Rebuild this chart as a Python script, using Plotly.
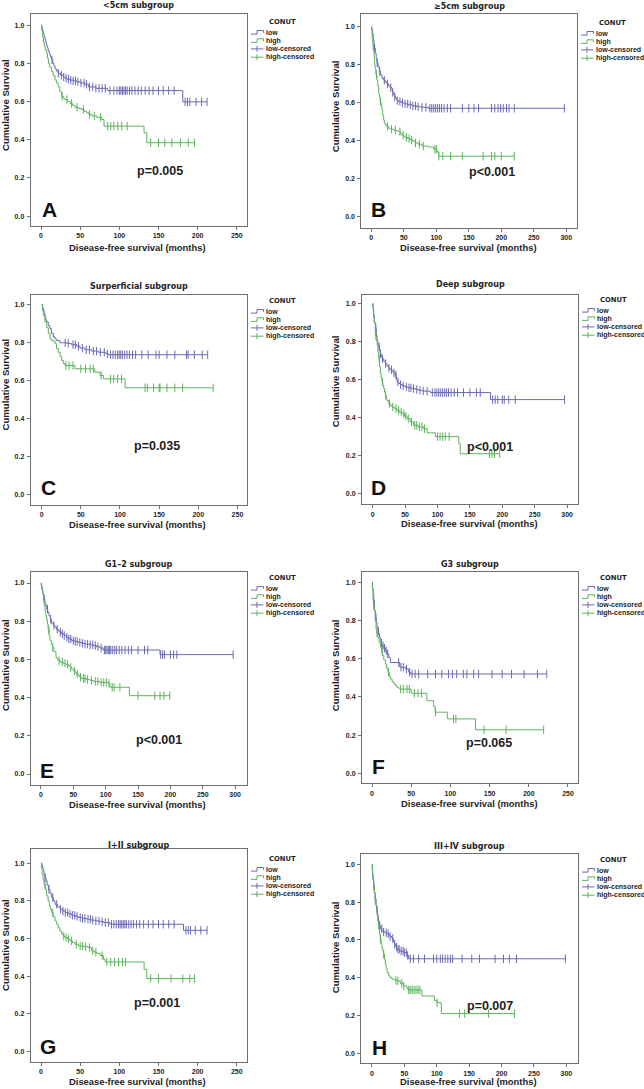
import plotly.graph_objects as go

# ---------------- data ----------------
panel_titles = ["<5cm subgroup", "\u22655cm subgroup", "Surperficial subgroup", "Deep subgroup",
                "G1\u20132 subgroup", "G3 subgroup", "I+II subgroup", "III+IV subgroup"]
panel_letters = ["A", "B", "C", "D", "E", "F", "G", "H"]
p_values = ["p=0.005", "p<0.001", "p=0.035", "p<0.001", "p<0.001", "p=0.065", "p=0.001", "p=0.007"]
x_tick_max = [250, 300, 250, 300, 300, 250, 250, 300]
y_ticks = [0.0, 0.2, 0.4, 0.6, 0.8, 1.0]
legend_labels = ["low", "high", "low-censored", "high-censored"]

# A  <5cm
A_low_t = [1, 2, 3, 4, 5, 6, 7, 8, 9, 10, 11, 12, 13.5, 15, 16.5, 18, 20, 22, 25, 28.5, 31, 33, 37, 41, 45.5, 50, 56, 60.4, 70, 84.7, 181]
A_low_s = [0.985, 0.968, 0.955, 0.94, 0.925, 0.91, 0.895, 0.882, 0.87, 0.858, 0.845, 0.832, 0.818, 0.8, 0.785, 0.77, 0.758, 0.748, 0.738, 0.728, 0.722, 0.717, 0.712, 0.708, 0.703, 0.697, 0.69, 0.676, 0.669, 0.657, 0.598]
A_low_cens = [14, 22, 26, 29, 32, 35, 38, 41, 44, 47, 51, 55, 58, 62, 66, 70, 74, 78, 82, 88, 93, 97, 100, 102, 104, 106, 108, 110, 113, 116, 120, 124, 128, 133, 138, 143, 150, 156, 163, 170, 184, 187, 190, 198, 205, 212]
A_high_t = [1, 2, 3, 4.3, 5.5, 7.2, 8.3, 9.4, 11, 13.6, 15.5, 17.9, 20, 22, 24, 26.4, 28.5, 30.6, 34, 37, 40, 43.4, 48, 51.9, 55, 58.3, 61, 64.7, 71, 77.4, 80.4, 131.5, 135]
A_high_s = [0.97, 0.939, 0.91, 0.887, 0.87, 0.852, 0.826, 0.80, 0.78, 0.756, 0.735, 0.712, 0.695, 0.677, 0.65, 0.625, 0.617, 0.61, 0.6, 0.59, 0.58, 0.569, 0.563, 0.558, 0.549, 0.54, 0.532, 0.524, 0.517, 0.506, 0.471, 0.436, 0.384]
A_high_cens = [27, 33, 39, 46, 54, 62, 68, 76, 85, 89, 93, 98, 103, 110, 140, 150, 158, 167, 178, 188, 196]

# B  >=5cm
B_low_t = [1, 2, 3, 4, 5, 6.2, 7.5, 8.7, 10.5, 12.3, 14, 16.4, 19, 21.5, 24, 26.7, 29, 31.8, 33, 34.4, 36, 38, 40, 42, 47, 52, 57, 62.6, 70, 78, 88]
B_low_s = [0.985, 0.96, 0.933, 0.905, 0.889, 0.862, 0.836, 0.81, 0.79, 0.765, 0.748, 0.73, 0.72, 0.71, 0.70, 0.69, 0.68, 0.67, 0.655, 0.643, 0.632, 0.62, 0.612, 0.607, 0.6, 0.595, 0.59, 0.585, 0.58, 0.577, 0.572]
B_low_cens = [5, 9, 13, 20, 25, 30, 33, 36, 40, 44, 48, 52, 56, 60, 64, 68, 72, 78, 84, 90, 93, 96, 99, 102, 105, 108, 112, 117, 122, 140, 150, 158, 165, 185, 190, 195, 199, 203, 208, 212, 220, 297]
B_high_t = [0.5, 1, 1.5, 2, 3, 3.6, 4.3, 5.1, 6, 7, 8.7, 10, 11.3, 12.5, 13.8, 15, 16.4, 17.5, 19, 20, 21.5, 24, 26.7, 30, 34.4, 38, 42, 45, 47, 50, 52, 56, 60, 64, 67.7, 72, 78, 88, 96, 101, 103.6]
B_high_s = [0.985, 0.968, 0.94, 0.915, 0.895, 0.88, 0.84, 0.80, 0.78, 0.75, 0.72, 0.69, 0.65, 0.63, 0.607, 0.585, 0.563, 0.535, 0.51, 0.495, 0.484, 0.475, 0.467, 0.462, 0.458, 0.453, 0.449, 0.44, 0.43, 0.425, 0.419, 0.412, 0.405, 0.398, 0.39, 0.383, 0.373, 0.368, 0.356, 0.343, 0.32]
B_high_cens = [3, 8, 14, 25, 31, 37, 44, 49, 54, 58, 62, 68, 74, 80, 98, 100, 104, 110, 122, 140, 172, 185, 190, 200, 220]

# C  Superficial
C_low_t = [1, 2.1, 3.2, 4.3, 5.3, 6.4, 8.5, 10.6, 12.5, 14.9, 17, 19.2, 23.4, 32, 38, 44.7, 49, 55.4, 64, 72.4, 82, 85]
C_low_s = [0.985, 0.97, 0.952, 0.935, 0.92, 0.909, 0.89, 0.874, 0.85, 0.83, 0.82, 0.812, 0.80, 0.797, 0.79, 0.782, 0.772, 0.763, 0.756, 0.75, 0.742, 0.737]
C_low_cens = [30, 34, 40, 43, 47, 52, 57, 61, 66, 70, 75, 80, 84, 88, 91, 94, 97, 99, 101, 103, 106, 109, 112, 116, 120, 128, 136, 146, 150, 160, 170, 185, 187, 195, 205, 212]
C_high_t = [1, 2.1, 4, 6.4, 8.5, 10.6, 13, 17, 19, 21.3, 23.5, 25.6, 28, 29.8, 42.6, 68, 74.5, 78.8, 106.5]
C_high_s = [0.97, 0.944, 0.91, 0.88, 0.85, 0.82, 0.81, 0.795, 0.77, 0.75, 0.728, 0.707, 0.69, 0.68, 0.663, 0.645, 0.628, 0.61, 0.563]
C_high_cens = [31, 35, 40, 50, 56, 62, 66, 76, 88, 92, 97, 102, 132, 135, 143, 150, 151, 160, 170, 180, 219]

# D  Deep
D_low_t = [0.5, 1.5, 2.5, 4.1, 5.5, 6.7, 8, 9.3, 10.5, 11.8, 13, 14.4, 17, 19.6, 22, 24.7, 27, 30, 32.5, 35, 36.5, 37.6, 40, 42.7, 46, 50.4, 55, 60.7, 66, 71, 76, 81.3, 89, 181.7]
D_low_s = [0.975, 0.94, 0.9, 0.868, 0.835, 0.807, 0.79, 0.772, 0.755, 0.737, 0.722, 0.71, 0.697, 0.684, 0.672, 0.66, 0.652, 0.644, 0.635, 0.623, 0.605, 0.588, 0.58, 0.574, 0.567, 0.561, 0.557, 0.553, 0.548, 0.544, 0.541, 0.539, 0.532, 0.495]
D_low_cens = [5, 10, 12, 15, 20, 25, 29, 33, 36, 39, 43, 47, 52, 56, 59, 63, 68, 73, 78, 84, 92, 96, 99, 102, 105, 108, 111, 114, 117, 121, 126, 131, 140, 150, 160, 166, 185, 189, 193, 200, 203, 210, 220, 296]
D_high_t = [0.5, 1, 1.5, 2.5, 4.1, 5.5, 6.7, 8, 9.3, 10.5, 11.8, 13, 14.4, 15.5, 17, 18.3, 19.6, 21, 22, 24.7, 27, 30, 34, 37.6, 41, 45, 49, 53, 58, 63, 70, 78.7, 84, 96.8, 132.8, 135]
D_high_s = [0.975, 0.956, 0.925, 0.90, 0.833, 0.81, 0.78, 0.745, 0.71, 0.67, 0.632, 0.61, 0.588, 0.57, 0.553, 0.535, 0.518, 0.5, 0.49, 0.474, 0.465, 0.456, 0.448, 0.439, 0.43, 0.421, 0.408, 0.395, 0.377, 0.36, 0.352, 0.342, 0.32, 0.30, 0.263, 0.21]
D_high_cens = [5, 10, 15, 20, 26, 31, 36, 40, 44, 48, 51, 55, 60, 65, 68, 72, 76, 80, 100, 104, 108, 112, 118, 180, 184, 188, 196]

# E  G1-2
E_low_t = [0.5, 1, 2, 3, 4.6, 6, 7.5, 8.8, 10.5, 12.4, 14.5, 16.5, 19, 21.6, 24, 26.8, 29, 32, 36, 39.7, 43, 47.4, 52, 57.7, 63, 68, 75, 81, 86, 91, 96, 184]
E_low_s = [0.99, 0.98, 0.96, 0.94, 0.916, 0.895, 0.88, 0.864, 0.845, 0.829, 0.81, 0.789, 0.778, 0.768, 0.758, 0.75, 0.742, 0.733, 0.725, 0.716, 0.707, 0.698, 0.694, 0.689, 0.684, 0.68, 0.676, 0.672, 0.666, 0.66, 0.649, 0.625]
E_low_cens = [5, 10, 15, 20, 25, 30, 33, 36, 40, 43, 46, 50, 53, 56, 60, 64, 68, 72, 76, 80, 84, 88, 93, 98, 100, 102, 104, 106, 108, 111, 114, 117, 121, 125, 130, 135, 140, 150, 160, 165, 185, 188, 191, 200, 205, 210, 297]
E_high_t = [0.5, 1, 2.6, 4, 5, 6.2, 7.5, 8.5, 9.8, 11, 12.5, 13.9, 16, 18, 20, 23.2, 25, 26.8, 30, 34.5, 38, 42, 45, 47.4, 50, 52.6, 55, 57.7, 60, 63, 70, 75.8, 81, 90, 104, 106.7, 136.6]
E_high_s = [0.985, 0.97, 0.942, 0.91, 0.88, 0.855, 0.83, 0.81, 0.785, 0.755, 0.725, 0.698, 0.68, 0.663, 0.64, 0.61, 0.6, 0.593, 0.586, 0.58, 0.574, 0.567, 0.558, 0.55, 0.54, 0.532, 0.524, 0.515, 0.507, 0.50, 0.495, 0.49, 0.485, 0.48, 0.475, 0.454, 0.41]
E_high_cens = [12, 18, 28, 33, 37, 41, 46, 52, 56, 61, 66, 68, 72, 78, 84, 88, 93, 97, 101, 105, 110, 113, 122, 150, 176, 184, 190, 199]

# F  G3
F_low_t = [0.5, 1.3, 2.1, 3.2, 4.3, 5.3, 6.4, 7.5, 8.5, 9.5, 10.6, 11.7, 12.8, 15, 17, 19, 21.3, 23.4, 35.5, 42.5, 46.8, 49]
F_low_s = [0.97, 0.94, 0.887, 0.85, 0.817, 0.79, 0.764, 0.745, 0.73, 0.712, 0.695, 0.68, 0.668, 0.655, 0.642, 0.625, 0.607, 0.58, 0.555, 0.546, 0.529, 0.52]
F_low_cens = [3, 5, 8, 12, 14, 16, 18, 20, 34, 37, 40, 44, 48, 51, 55, 59.5, 71, 81, 89, 97.5, 102.5, 108, 116.5, 121, 129.7, 136, 153, 166, 178, 194, 211, 223]
F_high_t = [0.5, 1.3, 2, 3, 4, 5.1, 6, 7.2, 9, 10.6, 12, 13.6, 15, 17, 18.5, 20.4, 22, 23.4, 25.5, 27.6, 30, 31.9, 34, 36, 50, 70, 78.6, 80.5, 96, 132]
F_high_s = [0.97, 0.904, 0.88, 0.852, 0.8, 0.755, 0.735, 0.712, 0.685, 0.66, 0.638, 0.616, 0.594, 0.572, 0.55, 0.529, 0.51, 0.494, 0.48, 0.468, 0.458, 0.45, 0.445, 0.441, 0.419, 0.38, 0.35, 0.32, 0.285, 0.228]
F_high_cens = [2, 6.4, 12.8, 21, 36.5, 40, 44.6, 47.6, 54, 58.7, 63, 81, 104, 107, 143, 171, 219]

# G  I+II
G_low_t = [1, 1.7, 2.8, 3.8, 5, 6.4, 7.8, 9.4, 11.5, 13.6, 15.7, 17.9, 21, 24.3, 27.5, 30.7, 35, 39.2, 43.5, 47.7, 53, 58.3, 64, 69, 75, 79.6, 88, 181.9]
G_low_s = [0.99, 0.977, 0.96, 0.942, 0.925, 0.906, 0.885, 0.862, 0.84, 0.818, 0.8, 0.782, 0.768, 0.756, 0.746, 0.738, 0.731, 0.724, 0.718, 0.712, 0.707, 0.703, 0.698, 0.694, 0.69, 0.685, 0.676, 0.644]
G_low_cens = [5, 10, 15, 20, 25, 28, 31, 34, 37, 40, 43, 46, 50, 53, 56, 60, 63, 66, 70, 74, 78, 82, 86, 90, 93, 96, 99, 101, 103, 105, 107, 109, 112, 115, 118, 122, 126, 131, 137, 143, 150, 156, 163, 170, 185, 188, 191, 197, 204, 212]
G_high_t = [0.5, 1.3, 2.5, 3.8, 5.5, 7.2, 9, 10.6, 12, 13.6, 15.5, 17.9, 20, 22, 24, 26.4, 28.5, 30.7, 34, 37, 40, 43.4, 47.7, 55, 60.5, 64.7, 68, 71, 75.4, 79.6, 81.8, 131.6, 135]
G_high_s = [0.975, 0.942, 0.915, 0.888, 0.86, 0.827, 0.8, 0.773, 0.755, 0.738, 0.716, 0.694, 0.676, 0.658, 0.64, 0.623, 0.613, 0.605, 0.597, 0.588, 0.579, 0.57, 0.561, 0.557, 0.552, 0.534, 0.528, 0.522, 0.51, 0.49, 0.476, 0.437, 0.388]
G_high_cens = [5, 15, 29, 32, 35, 39, 45, 50, 53, 57, 62, 66, 70, 78, 84, 89, 94, 99, 104, 108, 140, 150, 166, 181, 190, 196]

# H  III+IV
H_low_t = [0.5, 1, 1.5, 2.5, 3.6, 5, 6.2, 7.2, 8.2, 9.5, 11.3, 13, 15.4, 18, 20.6, 23, 25.7, 28, 30.9, 33, 35, 37, 38.6, 42.2, 49, 54, 56.6]
H_low_s = [0.97, 0.945, 0.92, 0.885, 0.85, 0.815, 0.78, 0.755, 0.727, 0.7, 0.674, 0.66, 0.647, 0.642, 0.638, 0.632, 0.626, 0.618, 0.607, 0.59, 0.577, 0.562, 0.55, 0.541, 0.533, 0.518, 0.50]
H_low_cens = [3, 5, 8, 10, 12, 15, 18, 22, 25, 28, 32, 35, 38, 40, 42, 45, 48, 50, 53, 55, 59, 64, 72, 81, 95, 100, 105.5, 109, 113, 117, 121, 124.5, 139, 154, 166, 190, 203, 212, 223, 298.5]
H_high_t = [0.5, 1, 1.8, 2.6, 3.8, 5.1, 6.4, 7.7, 9, 10.3, 11.6, 12.9, 14.2, 15.4, 16.7, 18, 19.3, 20.6, 21.9, 23.2, 25.7, 28, 30.9, 35, 38.6, 43.7, 48.9, 54, 56.6, 77.2, 96.2, 100, 107]
H_high_s = [0.975, 0.947, 0.915, 0.885, 0.85, 0.815, 0.78, 0.744, 0.7, 0.656, 0.63, 0.603, 0.58, 0.559, 0.54, 0.524, 0.497, 0.471, 0.45, 0.427, 0.409, 0.4, 0.392, 0.386, 0.383, 0.37, 0.356, 0.342, 0.335, 0.303, 0.28, 0.268, 0.21]
H_high_cens = [12.9, 18, 37, 40, 46, 49, 56.6, 59, 62, 65, 68, 71, 74, 100.5, 135, 143, 180, 220]

curves = [
    (A_low_t, A_low_s, A_low_cens, A_high_t, A_high_s, A_high_cens),
    (B_low_t, B_low_s, B_low_cens, B_high_t, B_high_s, B_high_cens),
    (C_low_t, C_low_s, C_low_cens, C_high_t, C_high_s, C_high_cens),
    (D_low_t, D_low_s, D_low_cens, D_high_t, D_high_s, D_high_cens),
    (E_low_t, E_low_s, E_low_cens, E_high_t, E_high_s, E_high_cens),
    (F_low_t, F_low_s, F_low_cens, F_high_t, F_high_s, F_high_cens),
    (G_low_t, G_low_s, G_low_cens, G_high_t, G_high_s, G_high_cens),
    (H_low_t, H_low_s, H_low_cens, H_high_t, H_high_s, H_high_cens),
]

# ---------------- layout geometry (pixels in a 644 x 1089 page) ----------------
W, H = 644, 1089
# plot box: left, right, top, bottom
boxes = [
    (30.7, 247, 14, 226), (361.3, 577, 14, 228),
    (30.7, 247, 294.7, 505), (362, 578, 294.7, 504.3),
    (30.7, 247, 572.3, 784.7), (362, 578, 572.3, 783.3),
    (30.7, 247, 849.3, 1062), (361.3, 578, 854.3, 1063.3),
]
x_ranges = [(-13.2, 263), (-15.4, 316.5), (-14, 262.2), (-16.5, 316.8),
            (-15.9, 318.4), (-12.8, 262.8), (-13.2, 263), (-16.5, 318)]
y_ranges = [(-0.052, 1.058), (-0.058, 1.068), (-0.054, 1.053), (-0.056, 1.047),
            (-0.056, 1.056), (-0.052, 1.052), (-0.055, 1.074), (-0.053, 1.053)]
title_y = [5, 7, 286, 284, 564.7, 564, 845.3, 846.7]
ytitle_y = [105, 106, 384.5, 381, 665, 665, 945, 947]
ytitle_x = [6, 335.3, 5, 335.3, 5, 335.3, 5, 335.3]
xtitle_y = [247.5, 247, 524.5, 523.7, 804, 803.3, 1081, 1081.8]
p_pos = [(160, 171), (492, 172), (157, 446), (490, 447), (159, 740), (489, 743), (157, 1003), (490, 1006)]
letter_pos = [(49, 209), (378, 210), (48, 488), (378, 488), (47, 770), (378, 766), (48, 1046), (379, 1047)]
conut_y = [22, 23, 301, 300, 578, 578, 859, 860]

LOW = "#6a6ab4"
HIGH = "#5cb45c"
TXT = "#1e1e1e"
FONT = "Liberation Sans"


def PX(x):
    return x / W


def PY(y):
    return 1 - y / H


def step_value(t, times, surv):
    v = 1.0
    for ti, si in zip(times, surv):
        if ti <= t:
            v = si
    return v


fig = go.Figure()
annotations = []
shapes = []

for k in range(8):
    idx = "" if k == 0 else str(k + 1)
    xa, ya = "x" + idx, "y" + idx
    lt, ls, lc, ht, hs, hc = curves[k]
    for times, surv, cens, col in ((lt, ls, lc, LOW), (ht, hs, hc, HIGH)):
        end = max(max(cens), max(times))
        xs = [0] + list(times) + [end]
        ys = [1.0] + list(surv) + [surv[-1]]
        fig.add_trace(go.Scatter(x=xs, y=ys, mode="lines", line=dict(color=col, width=1, shape="hv"),
                                 xaxis=xa, yaxis=ya, showlegend=False, hoverinfo="skip"))
        fig.add_trace(go.Scatter(x=cens, y=[step_value(c, times, surv) for c in cens], mode="markers",
                                 marker=dict(symbol="line-ns", size=6, line=dict(color=col, width=1)),
                                 xaxis=xa, yaxis=ya, showlegend=False, hoverinfo="skip"))

    L, R, T, B = boxes[k]
    axis_common = dict(showgrid=False, zeroline=False, showline=True, mirror=True, linecolor="#6e6e6e",
                       linewidth=1, ticks="outside", ticklen=3, tickwidth=1, tickcolor="#6e6e6e",
                       tickfont=dict(family=FONT, size=7, color=TXT, weight="bold"))
    fig.update_layout(**{
        "xaxis" + idx: dict(domain=[PX(L), PX(R)], range=list(x_ranges[k]), anchor=ya,
                            tickvals=list(range(0, x_tick_max[k] + 1, 50)), ticklabelstandoff=0, **axis_common),
        "yaxis" + idx: dict(domain=[PY(B), PY(T)], range=list(y_ranges[k]), anchor=xa,
                            tickvals=y_ticks, tickformat=".1f", ticklabelstandoff=1, **axis_common),
    })

    cx = (L + R) / 2
    annotations.append(dict(text=panel_titles[k], x=PX(cx), y=PY(title_y[k]), xref="paper", yref="paper",
                            showarrow=False, xanchor="center", yanchor="middle",
                            font=dict(family="DejaVu Sans", size=8, color=TXT, weight="bold")))
    annotations.append(dict(text="Disease-free survival (months)", x=PX(cx - 1), y=PY(xtitle_y[k]),
                            xref="paper", yref="paper", showarrow=False, xanchor="center", yanchor="middle",
                            font=dict(family=FONT, size=9.4, color=TXT, weight="bold")))
    annotations.append(dict(text="Cumulative Survival", x=PX(ytitle_x[k]), y=PY(ytitle_y[k]), textangle=-90,
                            xref="paper", yref="paper", showarrow=False, xanchor="center", yanchor="middle",
                            font=dict(family=FONT, size=9.6, color=TXT, weight="bold")))
    annotations.append(dict(text=p_values[k], x=PX(p_pos[k][0]), y=PY(p_pos[k][1]), xref="paper", yref="paper",
                            showarrow=False, xanchor="center", yanchor="middle",
                            font=dict(family=FONT, size=12.5, color=TXT, weight="bold")))
    annotations.append(dict(text=panel_letters[k], x=PX(letter_pos[k][0]), y=PY(letter_pos[k][1]),
                            xref="paper", yref="paper", showarrow=False, xanchor="center", yanchor="middle",
                            font=dict(family=FONT, size=21, color="#111111", weight="bold")))

    # legend (SPSS style, drawn next to the box)
    gx0 = R + 4
    gx1 = gx0 + 12.5
    annotations.append(dict(text="CONUT", x=PX(gx0 + 31), y=PY(conut_y[k]), xref="paper", yref="paper",
                            showarrow=False, xanchor="center", yanchor="middle",
                            font=dict(family="DejaVu Sans", size=6.8, color=TXT, weight="bold")))
    for i, lab in enumerate(legend_labels):
        yy = conut_y[k] + 10.3 + 8.3 * i
        col = LOW if i % 2 == 0 else HIGH
        if i < 2:
            path = "M {} {} L {} {} L {} {} L {} {} L {} {}".format(
                PX(gx0), PY(yy + 1.8), PX(gx0 + 6), PY(yy + 1.8), PX(gx0 + 6), PY(yy - 1.8),
                PX(gx1), PY(yy - 1.8), PX(gx1), PY(yy + 0.5))
            shapes.append(dict(type="path", path=path, xref="paper", yref="paper",
                               line=dict(color=col, width=1)))
        else:
            shapes.append(dict(type="line", x0=PX(gx0), x1=PX(gx1), y0=PY(yy), y1=PY(yy), xref="paper",
                               yref="paper", line=dict(color=col, width=1)))
            shapes.append(dict(type="line", x0=PX(gx0 + 6), x1=PX(gx0 + 6), y0=PY(yy - 3), y1=PY(yy + 3),
                               xref="paper", yref="paper", line=dict(color=col, width=1)))
        annotations.append(dict(text=lab, x=PX(gx1 + 0.8), y=PY(yy), xref="paper", yref="paper",
                                showarrow=False, xanchor="left", yanchor="middle",
                                font=dict(family=FONT, size=7, color=TXT, weight="bold")))

fig.update_layout(width=W, height=H, autosize=False, margin=dict(l=0, r=0, t=0, b=0),
                  paper_bgcolor="white", plot_bgcolor="white", showlegend=False,
                  annotations=annotations, shapes=shapes)

fig.write_html("out.html", config={"displayModeBar": False},
               post_script="document.body.style.margin='0';document.body.style.overflow='hidden';")
